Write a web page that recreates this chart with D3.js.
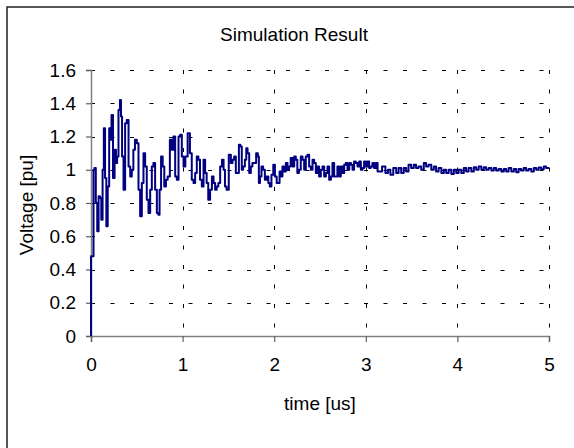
<!DOCTYPE html>
<html><head><meta charset="utf-8">
<script src="https://cdn.jsdelivr.net/npm/d3@7"></script>
<style>html,body{margin:0;padding:0;background:#fff;} svg{display:block;font-family:"Liberation Sans",Arial,sans-serif;}</style>
</head><body><svg id="c" width="574" height="448"></svg>
<script>
const chartTitle = "Simulation Result";
const xLabel = "time [us]";
const yLabel = "Voltage [pu]";
const xTicks = [0, 1, 2, 3, 4, 5];
const xTickLabels = ["0", "1", "2", "3", "4", "5"];
const yTicks = [0, 0.2, 0.4, 0.6, 0.8, 1.0, 1.2, 1.4, 1.6];
const yTickLabels = ["0", "0.2", "0.4", "0.6", "0.8", "1", "1.2", "1.4", "1.6"];

const time = [
  0, 0, 0.025, 0.03, 0.045, 0.06, 0.076, 0.09, 0.105, 0.12,
  0.133, 0.147, 0.16, 0.175, 0.19, 0.207, 0.218, 0.23, 0.25, 0.265,
  0.28, 0.29, 0.31, 0.322, 0.333, 0.345, 0.365, 0.38, 0.40, 0.42,
  0.436, 0.455, 0.47, 0.49, 0.51, 0.527, 0.546, 0.564, 0.582, 0.60,
  0.618, 0.637, 0.655, 0.673, 0.69, 0.71, 0.728, 0.742, 0.755, 0.775,
  0.79, 0.81, 0.826, 0.848, 0.874, 0.89, 0.91, 0.928, 0.946, 0.965,
  0.983, 1.0, 1.02, 1.04, 1.07, 1.09, 1.11, 1.128, 1.146, 1.164,
  1.18, 1.2, 1.22, 1.237, 1.255, 1.27, 1.29, 1.31, 1.33, 1.346,
  1.364, 1.38, 1.40, 1.42, 1.44, 1.455, 1.47, 1.49, 1.518, 1.536,
  1.554, 1.572, 1.59, 1.609, 1.62, 1.64, 1.652, 1.67, 1.69, 1.70,
  1.718, 1.736, 1.754, 1.77, 1.79, 1.816, 1.827, 1.838, 1.852, 1.87,
  1.889, 1.907, 1.929, 1.943, 1.96, 1.98, 2.0, 2.016, 2.038, 2.05,
  2.067, 2.08, 2.10, 2.118, 2.136, 2.154, 2.17, 2.19, 2.21, 2.227,
  2.245, 2.26, 2.28, 2.30, 2.318, 2.336, 2.354, 2.373, 2.39, 2.41,
  2.427, 2.445, 2.464, 2.48, 2.50, 2.518, 2.536, 2.555, 2.573, 2.59,
  2.61, 2.627, 2.645, 2.664, 2.68, 2.70, 2.718, 2.736, 2.755, 2.773,
  2.79, 2.81, 2.83, 2.846, 2.864, 2.88, 2.90, 2.918, 2.937, 2.955,
  2.973, 2.99, 3.01, 3.027, 3.046, 3.064, 3.08, 3.10, 3.12, 3.137,
  3.155, 3.2, 3.228, 3.257, 3.28, 3.32, 3.344, 3.373, 3.40, 3.428,
  3.453, 3.48, 3.51, 3.537, 3.56, 3.59, 3.62, 3.646, 3.67, 3.70,
  3.73, 3.755, 3.78, 3.81, 3.84, 3.865, 3.89, 3.92, 3.948, 3.974,
  4.0, 4.028, 4.057, 4.083, 4.108, 4.137, 4.167, 4.192, 4.217, 4.247,
  4.276, 4.30, 4.327, 4.356, 4.385, 4.41, 4.436, 4.465, 4.494, 4.52,
  4.545, 4.574, 4.603, 4.63, 4.654, 4.683, 4.71, 4.738, 4.763, 4.792,
  4.822, 4.847, 4.873, 4.9, 4.93, 4.956, 4.98, 5.0
];
const voltage = [
  0, 0.48, 0.48, 1.0, 1.01, 0.80, 0.63, 0.84, 0.83, 0.70,
  1.0, 1.25, 0.95, 0.66, 0.9, 1.25, 1.18, 1.33, 0.95, 1.12,
  1.04, 1.08, 1.36, 1.42, 1.32, 1.08, 0.88, 1.28, 1.30, 1.02,
  0.96, 1.0, 1.12, 1.18, 1.16, 0.88, 0.72, 0.92, 1.1, 1.02,
  0.82, 0.74, 0.88, 1.02, 1.04, 0.88, 0.74, 0.73, 0.88, 1.08,
  1.02, 0.90, 0.94, 0.96, 1.18, 1.12, 1.2, 0.96, 0.94, 1.2,
  1.21, 1.08, 1.02, 1.08, 1.22, 1.1, 0.94, 0.92, 0.98, 1.08,
  1.06, 0.94, 0.9, 1.06, 0.98, 0.92, 0.82, 0.88, 0.96, 0.92,
  0.88, 0.9, 0.92, 1.02, 1.06, 1.0, 0.9, 0.88, 1.09, 1.04,
  1.06, 1.08, 0.98, 0.98, 1.15, 1.14, 1.0, 1.02, 1.06, 1.13,
  1.10, 0.98, 1.02, 1.04, 1.04, 1.10, 1.08, 0.92, 0.96, 1.02,
  1.0, 0.94, 0.96, 0.92, 0.90, 0.97, 1.03, 0.96, 0.92, 0.92,
  0.99, 0.96, 1.02, 0.99, 1.04, 1.0, 1.02, 1.07, 1.02, 1.08,
  1.06, 0.98, 1.0, 1.08, 1.06, 1.0, 1.08, 1.09, 1.02, 1.0,
  1.06, 1.04, 0.98, 1.02, 0.96, 1.0, 1.02, 0.96, 0.98, 1.02,
  0.94, 0.96, 1.04, 0.96, 0.96, 1.02, 0.96, 1.02, 0.98, 1.03,
  1.04, 1.0, 1.04, 1.03, 1.0, 1.05, 1.04, 1.02, 1.05, 1.0,
  1.01, 1.05, 1.02, 1.05, 1.01, 1.02, 1.04, 1.01, 1.04, 0.99,
  0.99, 1.02, 0.98, 1.0, 0.97, 1.01, 0.98, 1.01, 0.98, 1.01,
  0.99, 1.03, 1.01, 1.03, 1.01, 1.02, 1.0, 1.04, 1.02, 1.03,
  1.0, 1.02, 0.99, 1.01, 0.98, 1.0, 0.98, 1.0, 0.975, 1.0,
  0.98, 1.0, 0.98, 1.01, 0.99, 1.01, 0.99, 1.015, 1.0, 1.02,
  1.0, 1.015, 1.0, 1.01, 0.995, 1.01, 0.995, 1.005, 0.99, 1.005,
  0.99, 1.01, 0.99, 1.005, 0.985, 1.005, 0.995, 1.01, 0.995, 1.005,
  0.99, 1.01, 1.0, 1.013, 1.003, 1.02, 1.01, 1.01
];

const svg = d3.select("#c");
const x = d3.scaleLinear().domain([0, 5]).range([91, 549]);
const y = d3.scaleLinear().domain([0, 1.6]).range([336, 70]);
const fs = 19;

svg.append("rect").attr("x", 0).attr("y", 0).attr("width", 574).attr("height", 448).attr("fill", "#fff");
svg.append("rect").attr("x", 7).attr("y", 7).attr("width", 620).attr("height", 520)
  .attr("fill", "#fff").attr("stroke", "#222").attr("stroke-width", 1.5);

// gridlines
const grid = svg.append("g");
grid.selectAll("line.h").data(yTicks.filter(d => d > 0)).join("line")
  .attr("x1", x(0)).attr("x2", x(5))
  .attr("y1", d => Math.round(y(d)) + 0.5).attr("y2", d => Math.round(y(d)) + 0.5)
  .attr("stroke", "#000").attr("stroke-width", 1).attr("stroke-dasharray", "4,15.5");
grid.selectAll("line.v").data(xTicks.filter(d => d > 0)).join("line")
  .attr("x1", d => Math.round(x(d)) + 0.5).attr("x2", d => Math.round(x(d)) + 0.5)
  .attr("y1", y(1.6)).attr("y2", y(0))
  .attr("stroke", "#000").attr("stroke-width", 1).attr("stroke-dasharray", "4,15.5");

// axes
const yAxis = svg.append("g").attr("transform", "translate(91,0)")
  .call(d3.axisLeft(y).tickValues(yTicks).tickSize(5).tickPadding(10)
    .tickFormat((d, i) => yTickLabels[i]));
const xAxis = svg.append("g").attr("transform", "translate(0,336)")
  .call(d3.axisBottom(x).tickValues(xTicks).tickSize(6).tickPadding(16)
    .tickFormat((d, i) => xTickLabels[i]));
[yAxis, xAxis].forEach(g => {
  g.select(".domain").attr("stroke", "#808080").attr("stroke-width", 1.5);
  g.selectAll(".tick line").attr("stroke", "#606060").attr("stroke-width", 1.2);
  g.selectAll(".tick text").attr("fill", "#000").style("font-size", fs + "px")
    .style("font-family", '"Liberation Sans", Arial, sans-serif');
});

// line
const line = d3.line().curve(d3.curveStep).x((d, i) => x(time[i])).y((d, i) => y(voltage[i]));
svg.append("path").datum(voltage).attr("d", line)
  .attr("fill", "none").attr("stroke", "#000080").attr("stroke-width", 2)
  .attr("stroke-linejoin", "round");

// texts
svg.append("text").attr("x", 294).attr("y", 41).attr("text-anchor", "middle")
  .style("font-size", fs + "px").text(chartTitle);
svg.append("text").attr("x", 320).attr("y", 410).attr("text-anchor", "middle")
  .style("font-size", fs + "px").text(xLabel);
svg.append("text").attr("transform", "translate(33,205) rotate(-90)").attr("text-anchor", "middle")
  .style("font-size", fs + "px").text(yLabel);
</script></body></html>
